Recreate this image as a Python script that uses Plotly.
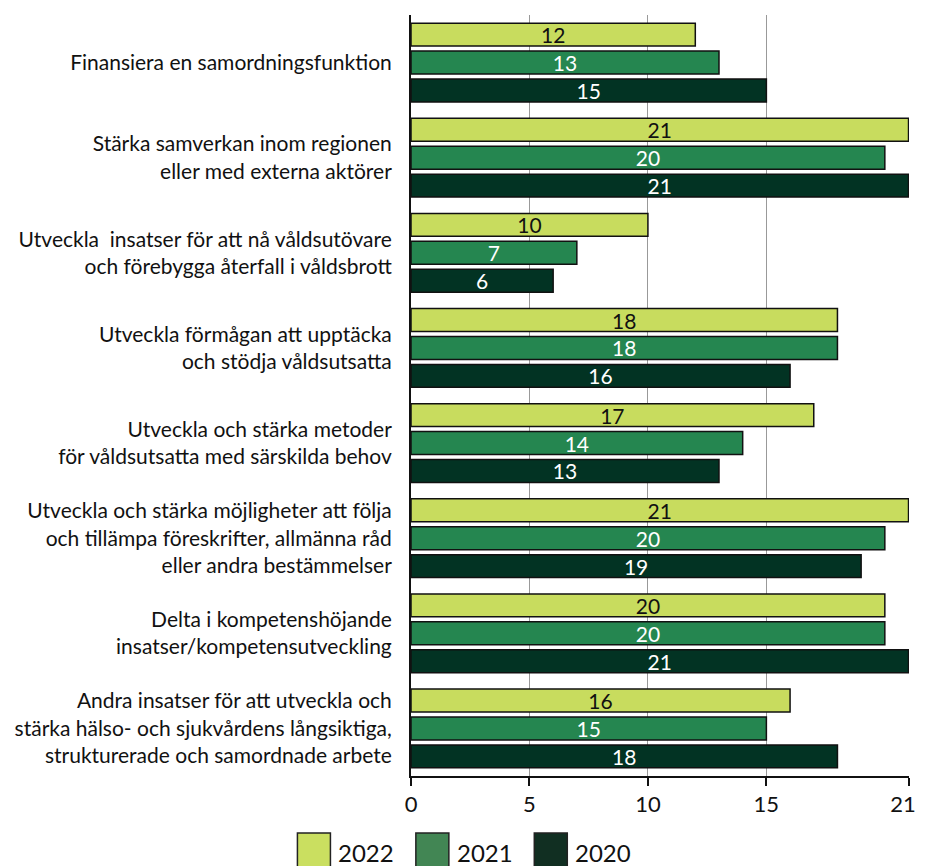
import plotly.graph_objects as go

categories = [
    "Finansiera en samordningsfunktion",
    "Stärka samverkan inom regionen<br>eller med externa aktörer",
    "Utveckla  insatser för att nå våldsutövare<br>och förebygga återfall i våldsbrott",
    "Utveckla förmågan att upptäcka<br>och stödja våldsutsatta",
    "Utveckla och stärka metoder<br>för våldsutsatta med särskilda behov",
    "Utveckla och stärka möjligheter att följa<br>och tillämpa föreskrifter, allmänna råd<br>eller andra bestämmelser",
    "Delta i kompetenshöjande<br>insatser/kompetensutveckling",
    "Andra insatser för att utveckla och<br>stärka hälso- och sjukvårdens långsiktiga,<br>strukturerade och samordnade arbete",
]
years = ["2022", "2021", "2020"]
values_2022 = [12, 21, 10, 18, 17, 21, 20, 16]
values_2021 = [13, 20, 7, 18, 14, 20, 20, 15]
values_2020 = [15, 21, 6, 16, 13, 19, 21, 18]
tick_vals = [0, 5, 10, 15, 21]
tick_text = ["0", "5", "10", "15", "21\u00a0\u00a0"]

bar_colors = ["#c8dc5e", "#258650", "#023323"]
legend_colors = ["#cadf60", "#428654", "#112f22"]
text_colors = ["#111111", "#ffffff", "#ffffff"]
FONT = "Lato"

W, H = 926, 866
L, R, T, B = 394, 19, 7, 98
PW, PH = W - L - R, H - T - B

fig = go.Figure()
for name, vals, col, tcol in zip(years, [values_2022, values_2021, values_2020], bar_colors, text_colors):
    fig.add_trace(go.Bar(
        y=categories, x=vals, name=name, orientation="h",
        marker=dict(color=col, line=dict(color="#111111", width=1.5)),
        text=[str(v) for v in vals], textposition="inside",
        insidetextanchor="middle", textangle=0, constraintext="none",
        textfont=dict(family=FONT, size=21, color=tcol),
        showlegend=False, cliponaxis=False,
    ))

# manual legend (figure pixel positions converted to paper coords)
def px(xf):
    return (xf - L) / PW

def py(yf):
    return (H - B - yf) / PH

for i, (name, col) in enumerate(zip(years, legend_colors)):
    sx = 277 + i * 122
    fig.add_shape(type="rect", xref="paper", yref="paper",
                  x0=px(sx), x1=px(sx + 34), y0=py(862), y1=py(825),
                  fillcolor=col, line=dict(color="#222222", width=1.5))
    fig.add_annotation(xref="paper", yref="paper",
                       x=px(sx + 41), y=py(829), text=name, showarrow=False,
                       xanchor="left", yanchor="top", borderpad=0,
                       font=dict(family=FONT, size=24, color="#111111"))

fig.update_layout(
    width=W, height=H,
    margin=dict(l=L, r=R, t=T, b=B),
    barmode="group", bargap=0.12, bargroupgap=0.18,
    plot_bgcolor="white", paper_bgcolor="white",
    font=dict(family=FONT, size=21, color="#111111"),
)
fig.update_xaxes(range=[0, 21.02], tickvals=tick_vals, ticktext=tick_text,
                 showgrid=True, gridcolor="#999999", gridwidth=1,
                 showline=True, linecolor="#111111", linewidth=2,
                 ticks="outside", ticklen=8, tickwidth=2, tickcolor="#111111",
                 ticklabeloverflow="allow",
                 tickfont=dict(family=FONT, size=22), zeroline=False)
fig.update_yaxes(autorange="reversed", showline=True, linecolor="#111111", linewidth=2,
                 ticks="", ticklabelstandoff=13, tickfont=dict(family=FONT, size=21))

fig.write_html("out.html")
